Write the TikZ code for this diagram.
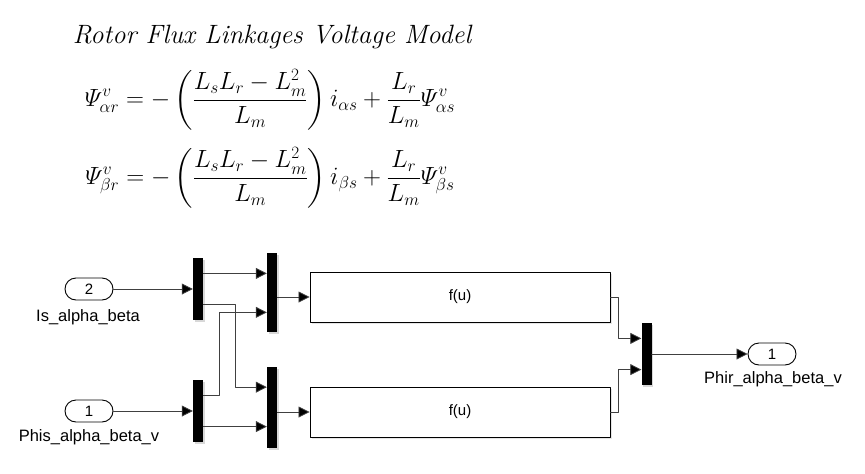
\documentclass[tikz,border=0pt]{standalone}
\usepackage{amsmath}
\usepackage{fontspec}
\newfontfamily\simfont{Liberation Sans}
\usetikzlibrary{arrows.meta,calc,shadows}

\tikzset{
  muxbar/.style={fill=black,minimum width=10pt,inner sep=0pt,
    drop shadow={shadow xshift=1.5pt,shadow yshift=-1.5pt,fill=black!30}},
  port/.style={draw,line width=0.9pt,rounded corners=11pt,minimum width=48pt,
    minimum height=22pt,inner sep=0pt,font=\simfont\fontsize{15}{15}\selectfont},
  fcnbox/.style={draw,line width=0.9pt,fill=white,minimum width=300pt,minimum height=50pt,
    inner sep=0pt,font=\simfont\fontsize{15}{15}\selectfont,
    drop shadow={shadow xshift=1.5pt,shadow yshift=-1.5pt,fill=black!20}},
  lbl/.style={font=\simfont\fontsize{16.5}{17}\selectfont,inner sep=0pt},
  sig/.style={draw=black!75,line width=0.8pt,-{Triangle[length=11pt,width=11pt,fill=black]}},
}

\begin{document}
\begin{tikzpicture}[x=1pt,y=-1pt,line cap=round,line join=round]
  \useasboundingbox (0,0) rectangle (865,474);
  % equations
  \node[inner sep=0pt] (title) at (272,37) {\fontsize{26.5}{30}\selectfont\itshape Rotor Flux Linkages Voltage Model};
  \node[inner sep=0pt] (eqa) at (270,100) {\fontsize{26}{30}\selectfont
    $\displaystyle\varPsi^{v}_{\alpha r}=-\left(\frac{L_sL_r-L_m^2}{L_m}\right)i_{\alpha s}+\frac{L_r}{L_m}\varPsi^{v}_{\alpha s}$};
  \node[inner sep=0pt] (eqb) at (270,178) {\fontsize{26}{30}\selectfont
    $\displaystyle\varPsi^{v}_{\beta r}=-\left(\frac{L_sL_r-L_m^2}{L_m}\right)i_{\beta s}+\frac{L_r}{L_m}\varPsi^{v}_{\beta s}$};
  % ports
  \node[port] (in2) at (89,289) {2};
  \node[lbl] (in2lbl) at (88,317) {Is\_alpha\_beta};
  \node[port] (in1) at (89,411) {1};
  \node[lbl] (in1lbl) at (89,437) {Phis\_alpha\_beta\_v};
  \node[port] (out1) at (772,354) {1};
  \node[lbl] (out1lbl) at (773,379) {Phir\_alpha\_beta\_v};
  % muxes
  \node[muxbar,minimum height=62pt] (mux1) at (198,289) {};
  \node[muxbar,minimum height=62pt] (mux3) at (198,411) {};
  \node[muxbar,minimum height=79pt] (mux2) at (272,292.5) {};
  \node[muxbar,minimum height=81pt] (mux4) at (272,407.5) {};
  \node[muxbar,minimum height=62pt] (mux5) at (646.5,354) {};
  % fcn blocks
  \node[fcnbox] (fcn1) at (460,297) {f(u)};
  \node[fcnbox] (fcn2) at (460,412) {f(u)};
  % port positions on the bars
  \foreach \m in {mux1,mux2,mux3,mux4,mux5}{
    \coordinate (\m ia) at ($(\m.north west)!0.25!(\m.south west)$);
    \coordinate (\m ib) at ($(\m.north west)!0.75!(\m.south west)$);
    \coordinate (\m oa) at ($(\m.north east)!0.25!(\m.south east)$);
    \coordinate (\m ob) at ($(\m.north east)!0.75!(\m.south east)$);
  }
  % signals
  \draw[sig] (in2.east) -- (mux1.west);
  \draw[sig] (in1.east) -- (mux3.west);
  \draw[sig] (mux1oa) -- (mux1oa -| mux2.west);
  \draw[sig] (mux1ob) -- ++(32,0) |- (mux4ia);
  \draw[sig] (mux3oa) -- ++(16,0) |- (mux2ib);
  \draw[sig] (mux3ob) -- (mux3ob -| mux4.west);
  \draw[sig] (mux2.east |- fcn1.west) -- (fcn1.west);
  \draw[sig] (mux4.east |- fcn2.west) -- (fcn2.west);
  \draw[sig] (fcn1.east) -- ++(8,0) |- (mux5ia);
  \draw[sig] (fcn2.east) -- ++(8,0) |- (mux5ib);
  \draw[sig] (mux5.east) -- (out1.west);
\end{tikzpicture}
\end{document}
